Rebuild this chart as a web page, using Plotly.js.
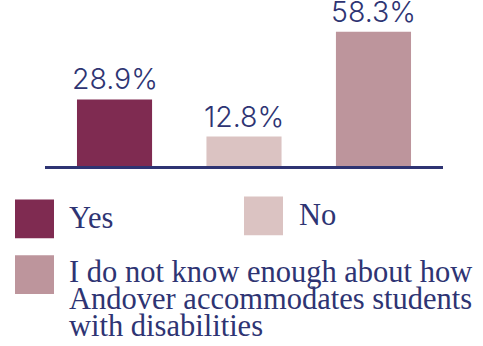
<!DOCTYPE html>
<html><head><meta charset="utf-8">
<script src="https://cdn.plot.ly/plotly-3.0.1.min.js"></script>
<style>html,body{margin:0;padding:0;background:#fff}#chart{width:483px;height:346px}</style>
</head><body><div id="chart"></div>
<script>
const categories = ["Yes", "No", "I do not know enough about how Andover accommodates students with disabilities"];
const values = [28.9, 12.8, 58.3];
const valueLabels = ["28.9%", "12.8%", "58.3%"];
const legendLines = [["Yes"], ["No"], ["I do not know enough about how", "Andover accommodates students", "with disabilities"]];
const colors = ["#7f2b51", "#dbc3c2", "#bd959c"];
const ink = "#2e3473";

const W = 483, H = 346;
const L = 45, R = 40, T = 0, B = 179.5;
const pw = W - L - R, ph = H - T - B;
const px = x => (x - L) / pw;
const py = y => (H - B - y) / ph;

const idx = categories.map((c, i) => i);

const trace = {
  type: "bar", x: idx, y: values,
  marker: {color: colors, line: {width: 0}},
  width: 0.58, hoverinfo: "skip", showlegend: false
};

const annotations = idx.map(i => ({
  x: i, y: values[i], xref: "x", yref: "y",
  text: valueLabels[i], showarrow: false, yanchor: "bottom", yshift: 1,
  font: {family: "Inter, 'Open Sans', sans-serif", size: 28.5, weight: 300, color: ink}
}));

// legend (squares + text)
const legendPos = [
  {sx: 15, sy: 200, tx: 67, ty: 219},
  {sx: 244, sy: 197, tx: 297, ty: 216},
  {sx: 15, sy: 256, tx: 67, ty: 273}
];
const lineGap = 26.8;
const shapes = [];
idx.forEach(i => {
  const p = legendPos[i];
  shapes.push({type: "rect", xref: "paper", yref: "paper",
    x0: px(p.sx), x1: px(p.sx + 39), y0: py(p.sy), y1: py(p.sy + 39),
    fillcolor: colors[i], line: {width: 0}});
  legendLines[i].forEach((ln, j) => {
    annotations.push({xref: "paper", yref: "paper", x: px(p.tx), y: py(p.ty + j * lineGap),
      xanchor: "left", yanchor: "middle", text: ln, showarrow: false,
      font: {family: "'Liberation Serif', 'DejaVu Serif', serif", size: 30.5, color: ink}});
  });
});

const layout = {
  width: W, height: H,
  margin: {l: L, r: R, t: T, b: B, pad: 0},
  paper_bgcolor: "#fff", plot_bgcolor: "#fff",
  xaxis: {range: [-0.537, 2.537], showticklabels: false, ticks: "", showgrid: false, zeroline: false,
    showline: true, linecolor: ink, linewidth: 3, fixedrange: true},
  yaxis: {range: [0, 72.1], visible: false, showgrid: false, zeroline: false, fixedrange: true},
  shapes: shapes, annotations: annotations, showlegend: false
};
Plotly.newPlot("chart", [trace], layout, {displayModeBar: false, staticPlot: true});
</script></body></html>
